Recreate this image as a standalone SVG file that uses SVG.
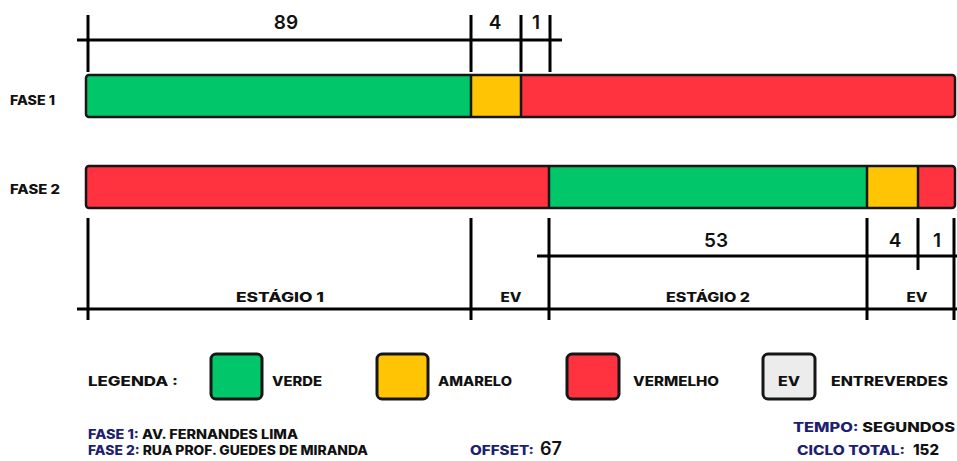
<svg xmlns="http://www.w3.org/2000/svg" width="957" height="461" viewBox="0 0 957 461">
<style>
.bg{fill:#ffffff}
.g{fill:#02c76a}.y{fill:#ffc505}.r{fill:#ff323f}.ev{fill:#ececec}
.frame{fill:none;stroke:#161616;stroke-width:2.5}
.div{stroke:#161616;stroke-width:2.5}
.dim{stroke:#000;stroke-width:3;fill:none}
.lbl{font-family:Inter,"Open Sans",sans-serif;font-weight:800;fill:#111;font-size:13px}
.num{font-family:Inter,"Open Sans",sans-serif;font-weight:600;fill:#111;font-size:19px;text-anchor:middle}
.stg{font-family:Inter,"Open Sans",sans-serif;font-weight:800;fill:#111;font-size:12.5px;text-anchor:middle}
.navy{fill:#1d2070}
.box{stroke:#161616;stroke-width:3}
.big{font-family:Inter,"Open Sans",sans-serif;fill:#111}
</style>
<rect class="bg" x="0" y="0" width="957" height="461"/>

<g id="fase1">
  <text class="lbl" x="10" y="105" textLength="45" lengthAdjust="spacingAndGlyphs">FASE 1</text>
  <rect class="g" x="86" y="75" width="385" height="42"/>
  <rect class="y" x="471" y="75" width="50" height="42"/>
  <rect class="r" x="521" y="75" width="434" height="42"/>
  <line class="div" x1="471" y1="75" x2="471" y2="117"/>
  <line class="div" x1="521" y1="75" x2="521" y2="117"/>
  <rect class="frame" x="86" y="75" width="869" height="42" rx="3"/>
</g>

<g id="fase2">
  <text class="lbl" x="10" y="194" textLength="50" lengthAdjust="spacingAndGlyphs">FASE 2</text>
  <rect class="r" x="86" y="166" width="463" height="42"/>
  <rect class="g" x="549" y="166" width="318" height="42"/>
  <rect class="y" x="867" y="166" width="51" height="42"/>
  <rect class="r" x="918" y="166" width="37" height="42"/>
  <line class="div" x1="549" y1="166" x2="549" y2="208"/>
  <line class="div" x1="867" y1="166" x2="867" y2="208"/>
  <line class="div" x1="918" y1="166" x2="918" y2="208"/>
  <rect class="frame" x="86" y="166" width="869" height="42" rx="3"/>
</g>

<g id="connectors">
  <g id="dim-top">
    <line class="dim" x1="77" y1="40" x2="562" y2="40"/>
    <line class="dim" x1="88" y1="15" x2="88" y2="72"/>
    <line class="dim" x1="471" y1="15" x2="471" y2="72"/>
    <line class="dim" x1="521" y1="15" x2="521" y2="72"/>
    <line class="dim" x1="550" y1="15" x2="550" y2="72"/>
  </g>
  <g id="dim-bottom">
    <line class="dim" x1="77" y1="309" x2="957" y2="309"/>
    <line class="dim" x1="537" y1="256" x2="957" y2="256"/>
    <line class="dim" x1="88" y1="218" x2="88" y2="320"/>
    <line class="dim" x1="471" y1="218" x2="471" y2="320"/>
    <line class="dim" x1="549" y1="218" x2="549" y2="320"/>
    <line class="dim" x1="867" y1="218" x2="867" y2="320"/>
    <line class="dim" x1="918" y1="218" x2="918" y2="270"/>
    <line class="dim" x1="954" y1="218" x2="954" y2="320"/>
  </g>
</g>

<g id="dim-labels">
  <text class="num" x="286" y="29">89</text>
  <text class="num" x="495" y="29">4</text>
  <text class="num" x="536" y="29">1</text>
  <text class="num" x="716" y="247">53</text>
  <text class="num" x="895" y="247">4</text>
  <text class="num" x="937" y="247">1</text>
  <text class="stg" x="280" y="302" textLength="88" lengthAdjust="spacingAndGlyphs">ESTÁGIO 1</text>
  <text class="stg" x="511" y="302" textLength="21" lengthAdjust="spacingAndGlyphs">EV</text>
  <text class="stg" x="708" y="302" textLength="84" lengthAdjust="spacingAndGlyphs">ESTÁGIO 2</text>
  <text class="stg" x="917" y="302" textLength="21" lengthAdjust="spacingAndGlyphs">EV</text>
</g>

<g id="legend">
  <text class="lbl" x="88" y="386" textLength="90" lengthAdjust="spacingAndGlyphs">LEGENDA :</text>
  <g id="leg-verde">
    <rect class="box g" x="211" y="354" width="51" height="45" rx="5"/>
    <text class="lbl" x="272" y="386" textLength="50" lengthAdjust="spacingAndGlyphs">VERDE</text>
  </g>
  <g id="leg-amarelo">
    <rect class="box y" x="377" y="354" width="51" height="45" rx="5"/>
    <text class="lbl" x="438" y="386" textLength="74" lengthAdjust="spacingAndGlyphs">AMARELO</text>
  </g>
  <g id="leg-vermelho">
    <rect class="box r" x="567" y="354" width="52" height="45" rx="5"/>
    <text class="lbl" x="633" y="386" textLength="86" lengthAdjust="spacingAndGlyphs">VERMELHO</text>
  </g>
  <g id="leg-ev">
    <rect class="box ev" x="763" y="354" width="52" height="45" rx="5"/>
    <text class="stg" x="789" y="386" textLength="22" lengthAdjust="spacingAndGlyphs">EV</text>
    <text class="lbl" x="831" y="386" textLength="117" lengthAdjust="spacingAndGlyphs">ENTREVERDES</text>
  </g>
</g>

<g id="info">
  <text class="lbl" x="88" y="439" textLength="210" lengthAdjust="spacingAndGlyphs"><tspan class="navy">FASE 1:</tspan> AV. FERNANDES LIMA</text>
  <text class="lbl" x="88" y="455" textLength="280" lengthAdjust="spacingAndGlyphs"><tspan class="navy">FASE 2:</tspan> RUA PROF. GUEDES DE MIRANDA</text>
  <text class="lbl" x="470" y="455" textLength="64" lengthAdjust="spacingAndGlyphs"><tspan class="navy">OFFSET:</tspan></text>
  <text class="big" x="540" y="455" style="font-size:18px;font-weight:600">67</text>
  <text class="lbl" x="793" y="432" textLength="162" lengthAdjust="spacingAndGlyphs"><tspan class="navy">TEMPO:</tspan> SEGUNDOS</text>
  <text class="lbl" x="797" y="455" textLength="108" lengthAdjust="spacingAndGlyphs"><tspan class="navy">CICLO TOTAL:</tspan></text>
  <text class="big" x="913" y="455" style="font-size:15px;font-weight:800">152</text>
</g>
</svg>
